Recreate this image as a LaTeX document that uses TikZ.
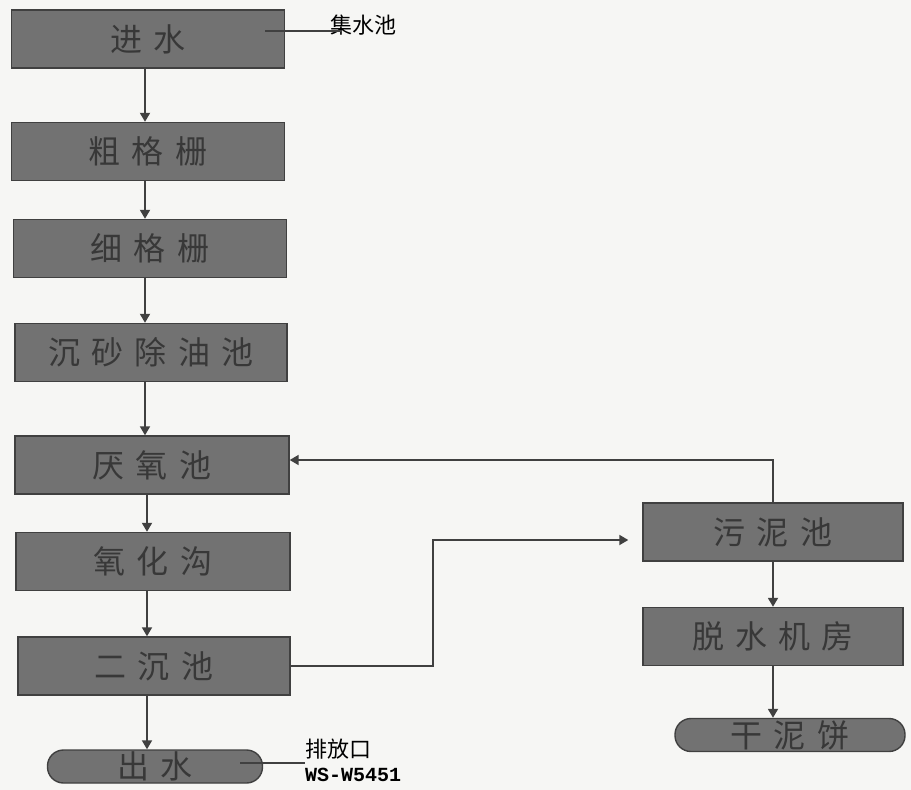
\documentclass[tikz,border=0pt]{standalone}
\usepackage{fontspec}
\setmainfont{Noto Sans CJK SC}
\newfontfamily\boxfont[LetterSpace=35]{Noto Sans CJK SC}
\setmonofont{Liberation Mono}
\usetikzlibrary{arrows.meta, positioning, calc}
\definecolor{boxgray}{HTML}{727272}
\definecolor{textgray}{HTML}{383838}
\definecolor{linegray}{HTML}{404040}
\definecolor{paper}{HTML}{F6F6F4}

\begin{document}
\begin{tikzpicture}[
    x=1pt, y=-1pt,
    >={Triangle[length=9pt,width=10pt]},
    proc/.style={draw=linegray, line width=1.4pt, fill=boxgray, text=textgray,
        inner sep=0pt, minimum height=58pt, font=\boxfont\fontsize{32}{34}\selectfont},
    endp/.style={proc, rounded corners=16pt, minimum height=33pt},
    flow/.style={->, draw=linegray, line width=1.8pt},
    tag/.style={linegray, line width=1.2pt},
    note/.style={font=\fontsize{22}{24}\selectfont, inner sep=0pt, anchor=west}
]
    % 背景
    \fill[paper] (0,0) rectangle (911,790);
    \useasboundingbox (0,0) rectangle (911,790);

    % 左列:污水处理主流程
    \node[proc, minimum width=273pt] (jinshui)  at (148,39)    {进水};
    \node[proc, minimum width=273pt] (cugeshan) at (148,151.5) {粗格栅};
    \node[proc, minimum width=273pt] (xigeshan) at (150,248.5) {细格栅};
    \node[proc, minimum width=272pt] (chensha)  at (151,352.5) {沉砂除油池};
    \node[proc, minimum width=274pt] (yanyang)  at (152,465)   {厌氧池};
    \node[proc, minimum width=274pt] (yanghua)  at (153,561.5) {氧化沟};
    \node[proc, minimum width=272pt] (erchen)   at (154,666)   {二沉池};
    \node[endp, minimum width=215pt] (chushui)  at (155,766.5) {出水};

    % 右列:污泥处理
    \node[proc, minimum width=260pt] (wuni)    at (773,532)   {污泥池};
    \node[proc, minimum width=260pt] (tuoshui) at (773,636.5) {脱水机房};
    \node[endp, minimum width=230pt] (ganni)   at (790,735)   {干泥饼};

    % 主流程箭头
    \draw[flow] (jinshui.south -| 145,0) -- (cugeshan.north -| 145,0);
    \draw[flow] (cugeshan.south -| 145,0) -- (xigeshan.north -| 145,0);
    \draw[flow] (xigeshan.south -| 145,0) -- (chensha.north -| 145,0);
    \draw[flow] (chensha.south -| 145,0) -- (yanyang.north -| 145,0);
    \draw[flow] (yanyang.south -| 147,0) -- (yanghua.north -| 147,0);
    \draw[flow] (yanghua.south -| 147,0) -- (erchen.north -| 147,0);
    \draw[flow] (erchen.south -| 147,0) -- (chushui.north -| 147,0);

    % 污泥流程
    \draw[flow, shorten >=14pt] (erchen.east) -- ++(142,0) |- ([yshift=-8pt]wuni.west);
    \draw[flow] (wuni.north) |- ([yshift=5pt]yanyang.east);
    \draw[flow] (wuni) -- (tuoshui);
    \draw[flow] (tuoshui.south) -- (tuoshui.south |- ganni.north);

    % 标注
    \node[note] (jishui) at (330,25) {集水池};
    \coordinate (jsin) at (265,31);
    \draw[tag] (jsin) -- (jsin -| jishui.west) -- ++(12,0);
    \node[note] (paifang) at (305,749) {排放口};
    \node[note, font=\ttfamily\bfseries\fontsize{20}{22}\selectfont] (wsno) at (305,775) {WS-W5451};
    \coordinate (pfin) at (240,763);
    \draw[tag] (pfin) -- (pfin -| paifang.west);
\end{tikzpicture}
\end{document}
